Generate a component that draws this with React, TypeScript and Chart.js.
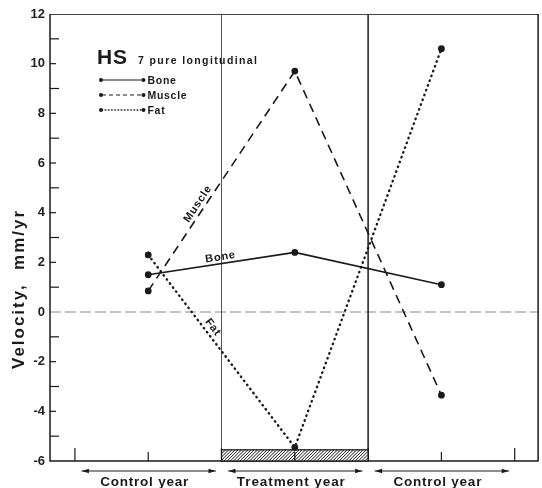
import React, { useEffect, useRef } from "react";
import { Chart, registerables } from "chart.js";

Chart.register(...registerables);

// ---- data ----
const periodCenters = [0.5, 1.5, 2.5];
const periodStarts = [0, 1, 2];
const periodEnds = [1, 2, 3];
const periodLabels = ["Control year", "Treatment year", "Control year"];
const boneValues = [1.5, 2.4, 1.1];
const muscleValues = [0.85, 9.7, -3.35];
const fatValues = [2.3, -5.45, 10.6];
const seriesNames = ["Bone", "Muscle", "Fat"];
const treatmentSpan = [1, 2];
const hatchTop = -5.55;
const yTickValues = [-6, -5, -4, -3, -2, -1, 0, 1, 2, 3, 4, 5, 6, 7, 8, 9, 10, 11, 12];
const xTickValues = [0, 0.5, 1, 1.5, 2, 2.5, 3];
const yMin = -6;
const yMax = 12;
const xMin = -0.17;
const xMax = 3.163;

const INK = "#1a1a1a";
const FONT = "'Liberation Sans', Arial, sans-serif";

function fitText(ctx: CanvasRenderingContext2D, text: string, x: number, y: number, target: number, align: "left" | "center") {
  (ctx as any).letterSpacing = "0px";
  const w = ctx.measureText(text).width;
  const n = Math.max(1, text.length - 1);
  const ls = (target - w) / n;
  (ctx as any).letterSpacing = ls + "px";
  const total = w + ls * n;
  const sx = align === "center" ? x - total / 2 : x;
  ctx.textAlign = "left";
  ctx.fillText(text, sx, y);
  (ctx as any).letterSpacing = "0px";
}

const decorPlugin = {
  id: "decor",
  beforeDatasetsDraw(chart: any) {
    const ctx: CanvasRenderingContext2D = chart.ctx;
    const xs = chart.scales.x;
    const ys = chart.scales.y;
    const a = chart.chartArea;
    ctx.save();
    // zero line
    ctx.strokeStyle = "#888";
    ctx.lineWidth = 1;
    ctx.setLineDash([11, 4]);
    ctx.beginPath();
    ctx.moveTo(a.left, ys.getPixelForValue(0));
    ctx.lineTo(a.right, ys.getPixelForValue(0));
    ctx.stroke();
    ctx.setLineDash([]);
    // period boundaries
    const b1 = xs.getPixelForValue(treatmentSpan[0]);
    const b2 = xs.getPixelForValue(treatmentSpan[1]);
    ctx.strokeStyle = "#555";
    ctx.lineWidth = 1;
    ctx.beginPath();
    ctx.moveTo(b1, a.top);
    ctx.lineTo(b1, a.bottom);
    ctx.stroke();
    ctx.strokeStyle = INK;
    ctx.lineWidth = 1.5;
    ctx.beginPath();
    ctx.moveTo(b2, a.top);
    ctx.lineTo(b2, a.bottom);
    ctx.stroke();
    // frame
    ctx.strokeStyle = "#444";
    ctx.lineWidth = 1;
    ctx.beginPath();
    ctx.moveTo(a.left, a.top + 0.5);
    ctx.lineTo(a.right, a.top + 0.5);
    ctx.stroke();
    ctx.strokeStyle = INK;
    ctx.lineWidth = 1.5;
    ctx.beginPath();
    ctx.moveTo(a.right - 0.5, a.top);
    ctx.lineTo(a.right - 0.5, a.bottom);
    ctx.moveTo(a.left, a.top);
    ctx.lineTo(a.left, a.bottom);
    ctx.lineTo(a.right, a.bottom);
    ctx.stroke();
    // inward y ticks
    ctx.lineWidth = 1.2;
    for (const v of yTickValues) {
      if (v === yMin || v === yMax || v === 0) continue;
      const py = ys.getPixelForValue(v);
      const len = Math.abs(v) % 2 === 1 ? 9 : 6;
      ctx.beginPath();
      ctx.moveTo(a.left, py);
      ctx.lineTo(a.left + len, py);
      ctx.stroke();
    }
    // inward x ticks
    for (const v of xTickValues) {
      const px = xs.getPixelForValue(v);
      const len = Number.isInteger(v) ? 13 : 9;
      ctx.beginPath();
      ctx.moveTo(px, a.bottom);
      ctx.lineTo(px, a.bottom - len);
      ctx.stroke();
    }
    // hatched treatment bar
    const hy = ys.getPixelForValue(hatchTop);
    const by = ys.getPixelForValue(yMin);
    ctx.save();
    ctx.beginPath();
    ctx.rect(b1, hy, b2 - b1, by - hy);
    ctx.clip();
    ctx.fillStyle = "#fff";
    ctx.fillRect(b1, hy, b2 - b1, by - hy);
    ctx.strokeStyle = INK;
    ctx.lineWidth = 1;
    for (let x = b1 - 20; x < b2 + 20; x += 3.2) {
      ctx.beginPath();
      ctx.moveTo(x, by);
      ctx.lineTo(x + (by - hy), hy);
      ctx.stroke();
    }
    ctx.restore();
    ctx.strokeStyle = INK;
    ctx.lineWidth = 1.3;
    ctx.strokeRect(b1, hy, b2 - b1, by - hy);
    const pm = xs.getPixelForValue(periodCenters[1]);
    ctx.beginPath();
    ctx.moveTo(pm, by);
    ctx.lineTo(pm, by - 9);
    ctx.stroke();
    ctx.restore();
  },
  afterDatasetsDraw(chart: any) {
    const ctx: CanvasRenderingContext2D = chart.ctx;
    const xs = chart.scales.x;
    const ys = chart.scales.y;
    ctx.save();
    ctx.fillStyle = INK;
    ctx.textBaseline = "alphabetic";

    // line labels along the first segment
    const labelDefs = [
      { vals: boneValues, name: seriesNames[0], t: 0.5, off: 6.5 },
      { vals: muscleValues, name: seriesNames[1], t: 0.378, off: 7 },
      { vals: fatValues, name: seriesNames[2], t: 0.4, off: 7.5 },
    ];
    ctx.font = `bold 11px ${FONT}`;
    for (const d of labelDefs) {
      const x0 = xs.getPixelForValue(periodCenters[0]);
      const y0 = ys.getPixelForValue(d.vals[0]);
      const x1 = xs.getPixelForValue(periodCenters[1]);
      const y1 = ys.getPixelForValue(d.vals[1]);
      const dx = x1 - x0;
      const dy = y1 - y0;
      const len = Math.hypot(dx, dy);
      const nx = dy / len;
      const ny = -dx / len;
      const px = x0 + dx * d.t + nx * d.off;
      const py = y0 + dy * d.t + ny * d.off;
      ctx.save();
      ctx.translate(px, py);
      ctx.rotate(Math.atan2(dy, dx));
      ctx.textBaseline = "middle";
      (ctx as any).letterSpacing = "0.8px";
      ctx.textAlign = "center";
      ctx.fillText(d.name, 0, 0);
      ctx.restore();
    }

    // legend block
    ctx.font = `bold 21px ${FONT}`;
    fitText(ctx, "HS", 97, 64, 30, "left");
    ctx.font = `bold 10.5px ${FONT}`;
    fitText(ctx, "7 pure longitudinal", 138, 64, 119, "left");
    const rows = [80, 95, 110];
    const dashes = [[], [4, 3], [0.6, 2.6]];
    for (let i = 0; i < 3; i++) {
      const ry = rows[i];
      ctx.strokeStyle = INK;
      ctx.lineWidth = i === 2 ? 1.4 : 1.1;
      ctx.lineCap = i === 2 ? "round" : "butt";
      ctx.setLineDash(dashes[i]);
      ctx.beginPath();
      ctx.moveTo(102, ry);
      ctx.lineTo(142, ry);
      ctx.stroke();
      ctx.setLineDash([]);
      ctx.beginPath();
      ctx.arc(101, ry, 2, 0, Math.PI * 2);
      ctx.arc(143.5, ry, 2, 0, Math.PI * 2);
      ctx.fill();
      ctx.font = `bold 10.5px ${FONT}`;
      (ctx as any).letterSpacing = "0.7px";
      ctx.textAlign = "left";
      ctx.fillText(seriesNames[i], 147.5, ry + 3.8);
      (ctx as any).letterSpacing = "0px";
    }

    // period arrows and labels
    const ay = 471;
    ctx.strokeStyle = INK;
    ctx.lineWidth = 1;
    const labelWidths = [88, 108, 88];
    for (let i = 0; i < 3; i++) {
      const xa = xs.getPixelForValue(periodStarts[i]) + 7;
      const xb = xs.getPixelForValue(periodEnds[i]) - 6;
      ctx.beginPath();
      ctx.moveTo(xa, ay);
      ctx.lineTo(xb, ay);
      ctx.stroke();
      ctx.beginPath();
      ctx.moveTo(xa, ay);
      ctx.lineTo(xa + 7, ay - 2.2);
      ctx.lineTo(xa + 7, ay + 2.2);
      ctx.closePath();
      ctx.moveTo(xb, ay);
      ctx.lineTo(xb - 7, ay - 2.2);
      ctx.lineTo(xb - 7, ay + 2.2);
      ctx.closePath();
      ctx.fill();
      ctx.font = `bold 13.5px ${FONT}`;
      const cx = xs.getPixelForValue(periodCenters[i]) - 4;
      fitText(ctx, periodLabels[i], cx, 486, labelWidths[i], "center");
    }

    // y axis title
    ctx.save();
    ctx.translate(24, 290);
    ctx.rotate(-Math.PI / 2);
    ctx.font = `bold 17px ${FONT}`;
    fitText(ctx, "Velocity,  mm/yr", 0, 0, 158, "center");
    ctx.restore();

    ctx.restore();
  },
};

export default function App() {
  const ref = useRef<HTMLCanvasElement | null>(null);
  useEffect(() => {
    document.body.style.margin = "0";
    document.body.style.overflow = "hidden";
    const canvas = ref.current;
    if (!canvas) return;
    const toPts = (vals: number[]) => vals.map((y, i) => ({ x: periodCenters[i], y }));
    const common = {
      pointRadius: 3.4,
      pointHoverRadius: 3.4,
      pointBackgroundColor: INK,
      pointBorderWidth: 0,
      borderColor: INK,
      tension: 0,
      fill: false,
    };
    const chart = new Chart(canvas, {
      type: "line",
      data: {
        datasets: [
          { ...common, label: seriesNames[0], data: toPts(boneValues), borderWidth: 1.6 },
          { ...common, label: seriesNames[1], data: toPts(muscleValues), borderWidth: 1.6, borderDash: [9, 6] },
          {
            ...common,
            label: seriesNames[2],
            data: toPts(fatValues),
            borderWidth: 2.4,
            borderDash: [0.5, 4.6],
            borderCapStyle: "round",
          },
        ],
      },
      options: {
        animation: false,
        responsive: false,
        maintainAspectRatio: false,
        events: [],
        layout: { padding: { top: 14, bottom: 27, right: 1, left: 0 } },
        plugins: { legend: { display: false }, tooltip: { enabled: false } },
        scales: {
          x: { type: "linear", min: xMin, max: xMax, display: false },
          y: {
            type: "linear",
            min: yMin,
            max: yMax,
            afterFit: (s: any) => {
              s.width = 50;
            },
            grid: { display: false, drawTicks: false },
            border: { display: false },
            ticks: {
              stepSize: 1,
              autoSkip: false,
              padding: 5,
              color: "#222",
              font: { family: FONT, size: 13, weight: "bold" },
              callback: (v: any) => (Number(v) % 2 === 0 ? String(v) : ""),
            },
          },
        },
      } as any,
      plugins: [decorPlugin as any],
    });
    return () => chart.destroy();
  }, []);
  return <canvas ref={ref} width={542} height={488} style={{ display: "block" }} />;
}
